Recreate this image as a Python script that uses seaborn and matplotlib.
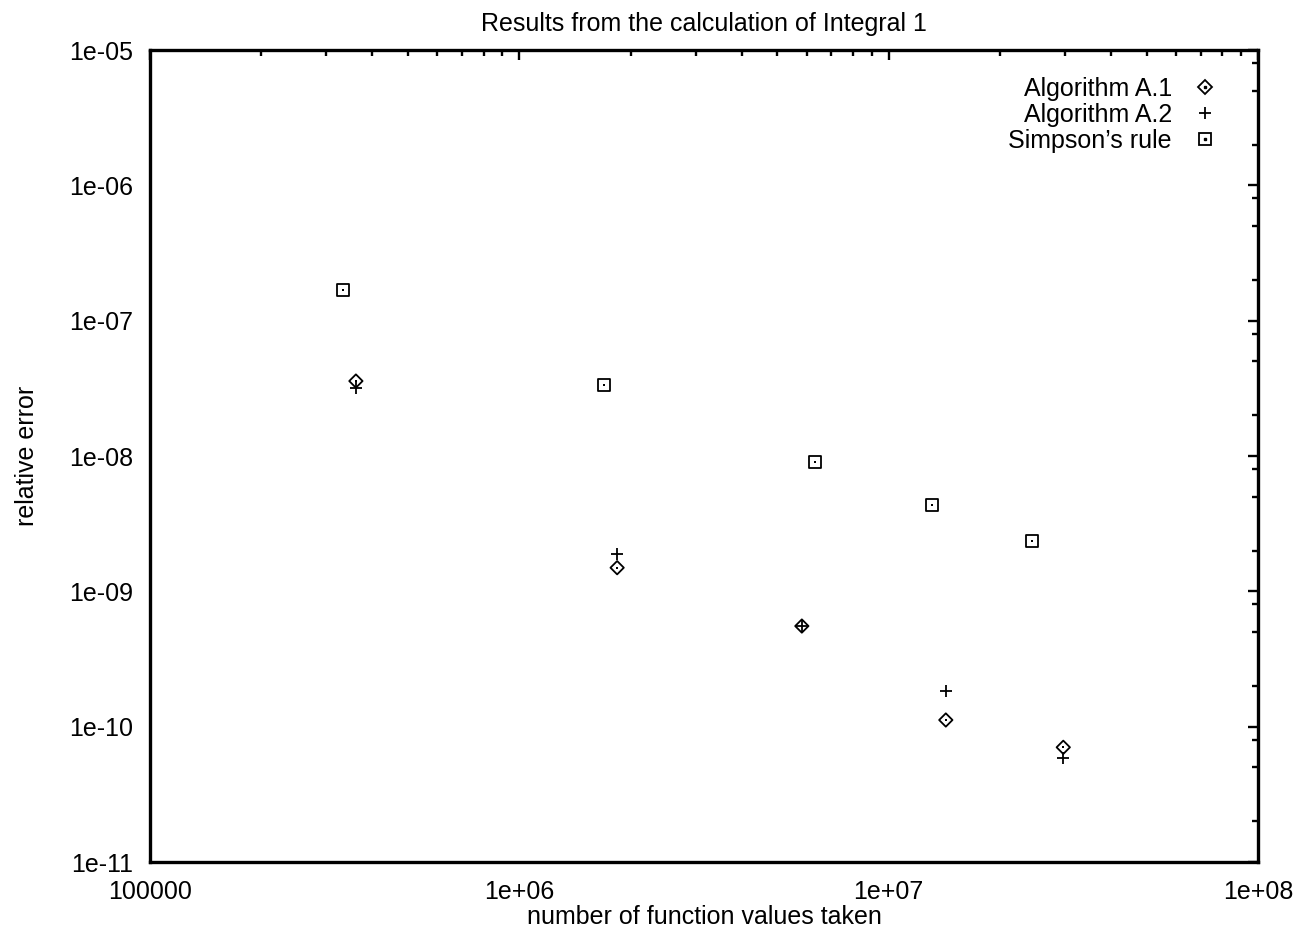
import numpy as np
import pandas as pd
import matplotlib
matplotlib.use("Agg")
import matplotlib.pyplot as plt
import seaborn as sns
from matplotlib.lines import Line2D
from matplotlib.ticker import LogLocator, FixedFormatter, FixedLocator, NullFormatter

# values (log-log)
n_alg = [3.61e5, 1.84e6, 5.82e6, 1.428e7, 2.97e7]
err_a1 = [3.58e-8, 1.495e-9, 5.54e-10, 1.12e-10, 7.04e-11]
err_a2 = [3.18e-8, 1.887e-9, 5.54e-10, 1.834e-10, 5.84e-11]
n_simpson = [3.337e5, 1.692e6, 6.33e6, 1.311e7, 2.441e7]
err_simpson = [1.69e-7, 3.35e-8, 8.98e-9, 4.35e-9, 2.366e-9]

x_ticks = [1e5, 1e6, 1e7, 1e8]
x_labels = ["100000", "1e+06", "1e+07", "1e+08"]
y_ticks = [1e-11, 1e-10, 1e-9, 1e-8, 1e-7, 1e-6, 1e-5]
y_labels = ["1e-11", "1e-10", "1e-09", "1e-08", "1e-07", "1e-06", "1e-05"]

sns.set_style("white")
plt.rcParams["font.family"] = ["Liberation Sans", "DejaVu Sans"]
plt.rcParams["text.color"] = "black"
plt.rcParams["axes.labelcolor"] = "black"
fs = 18

fig = plt.figure(figsize=(13.03, 9.30), dpi=100)
ax = fig.add_axes([150 / 1303, 1 - 862 / 930, 1108 / 1303, 812 / 930])

lw = 1.3
ms_d, ms_p, ms_s = 6.8, 8.8, 8.8
sns.scatterplot(x=n_alg, y=err_a1, marker="D", s=ms_d ** 2, facecolor="none",
                edgecolor="black", linewidth=lw, ax=ax, zorder=3)
sns.scatterplot(x=n_alg, y=err_a2, marker="+", s=ms_p ** 2, color="black",
                linewidth=lw, ax=ax, zorder=3)
sns.scatterplot(x=n_simpson, y=err_simpson, marker="s", s=ms_s ** 2, facecolor="none",
                edgecolor="black", linewidth=lw, ax=ax, zorder=3)
# centre dots like gnuplot's point types
sns.scatterplot(x=n_alg, y=err_a1, marker="s", s=1.6 ** 2, color="black",
                linewidth=0, ax=ax, zorder=4)
sns.scatterplot(x=n_simpson, y=err_simpson, marker="s", s=1.6 ** 2, color="black",
                linewidth=0, ax=ax, zorder=4)

ax.set_xscale("log")
ax.set_yscale("log")
ax.set_xlim(1e5, 1e8)
ax.set_ylim(1e-11, 1e-5)

ax.xaxis.set_major_locator(FixedLocator(x_ticks))
ax.xaxis.set_major_formatter(FixedFormatter(x_labels))
ax.yaxis.set_major_locator(FixedLocator(y_ticks))
ax.yaxis.set_major_formatter(FixedFormatter(y_labels))
ax.xaxis.set_minor_locator(LogLocator(base=10, subs=np.arange(2, 10), numticks=100))
ax.yaxis.set_minor_locator(LogLocator(base=10, subs=[2, 5, 8], numticks=100))
ax.xaxis.set_minor_formatter(NullFormatter())
ax.yaxis.set_minor_formatter(NullFormatter())

for side in ax.spines.values():
    side.set_visible(True)
    side.set_linewidth(2.4)
    side.set_color("black")

ax.tick_params(which="both", direction="in", top=True, right=True, colors="black",
               labelsize=fs, width=1.7)
ax.tick_params(which="major", length=7.5)
ax.tick_params(which="minor", length=4)
ax.tick_params(axis="x", which="major", pad=13)
ax.tick_params(axis="y", which="major", pad=12)

ax.set_xlabel("number of function values taken", fontsize=fs, labelpad=1)
ax.set_ylabel("relative error", fontsize=fs, labelpad=22)
ax.set_title("Results from the calculation of Integral 1", fontsize=fs, pad=14)

# legend: text first, symbol on the right, like gnuplot
dot = Line2D([], [], marker="s", markersize=1.6, color="black", linestyle="none")
h_a1 = Line2D([], [], marker="D", markersize=ms_d, markerfacecolor="none",
              markeredgecolor="black", markeredgewidth=lw, linestyle="none")
h_a2 = Line2D([], [], marker="+", markersize=ms_p, color="black",
              markeredgewidth=lw, linestyle="none")
h_s = Line2D([], [], marker="s", markersize=ms_s, markerfacecolor="none",
             markeredgecolor="black", markeredgewidth=lw, linestyle="none")
ax.legend([(h_a1, dot), h_a2, (h_s, dot)],
          ["Algorithm A.1", "Algorithm A.2", "Simpson\u2019s rule"],
          loc="upper right", bbox_to_anchor=(1217 / 1303, 1 - 77 / 930),
          bbox_transform=fig.transFigure, frameon=False, markerfirst=False,
          fontsize=fs, handlelength=1.0, handletextpad=0.8, labelspacing=0.08,
          borderpad=0, borderaxespad=0)

fig.savefig("out.png", dpi=100, facecolor="white")
